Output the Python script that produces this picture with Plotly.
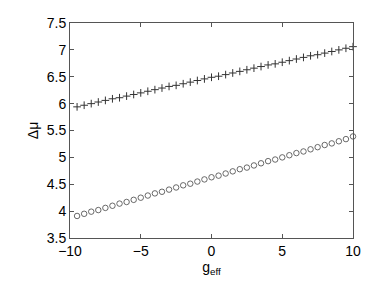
import plotly.graph_objects as go

g_eff = [-9.5, -9.0, -8.5, -8.0, -7.5, -7.0, -6.5, -6.0, -5.5, -5.0,
         -4.5, -4.0, -3.5, -3.0, -2.5, -2.0, -1.5, -1.0, -0.5, 0.0,
         0.5, 1.0, 1.5, 2.0, 2.5, 3.0, 3.5, 4.0, 4.5, 5.0,
         5.5, 6.0, 6.5, 7.0, 7.5, 8.0, 8.5, 9.0, 9.5, 10.0]

dmu_plus = [5.94, 5.97, 6.00, 6.03, 6.06, 6.09, 6.11, 6.14, 6.17, 6.20,
            6.23, 6.26, 6.29, 6.32, 6.34, 6.37, 6.40, 6.43, 6.46, 6.49,
            6.51, 6.54, 6.57, 6.60, 6.63, 6.66, 6.69, 6.72, 6.74, 6.77,
            6.80, 6.83, 6.86, 6.89, 6.91, 6.94, 6.97, 7.00, 7.03, 7.06]

dmu_circle = [3.91, 3.95, 3.99, 4.02, 4.06, 4.10, 4.14, 4.17, 4.21, 4.25,
              4.29, 4.33, 4.36, 4.40, 4.44, 4.48, 4.51, 4.55, 4.59, 4.63,
              4.66, 4.70, 4.74, 4.78, 4.81, 4.85, 4.89, 4.93, 4.96, 5.00,
              5.04, 5.08, 5.11, 5.15, 5.19, 5.23, 5.26, 5.30, 5.34, 5.39]

x_ticks = [-10, -5, 0, 5, 10]
x_tick_text = ["\u221210", "\u22125", "0", "5", "10"]
y_ticks = [3.5, 4, 4.5, 5, 5.5, 6, 6.5, 7, 7.5]
y_tick_text = ["3.5", "4", "4.5", "5", "5.5", "6", "6.5", "7", "7.5"]

fig = go.Figure()
fig.add_trace(go.Scatter(
    x=g_eff, y=dmu_plus, mode="markers",
    marker=dict(symbol="cross-thin-open", size=5.5, color="#333",
                line=dict(width=1, color="#333")),
    showlegend=False, cliponaxis=False))
fig.add_trace(go.Scatter(
    x=g_eff, y=dmu_circle, mode="markers",
    marker=dict(symbol="circle-open", size=5.5, color="#444",
                line=dict(width=0.8, color="#444")),
    showlegend=False, cliponaxis=False))

font = dict(family="Liberation Sans, Arial, sans-serif", size=14, color="black")
axis_common = dict(showline=True, linecolor="#555", linewidth=1, mirror="ticks",
                   ticks="inside", ticklen=4, tickcolor="#555", tickwidth=1,
                   showgrid=False, zeroline=False, tickfont=font,
                   ticklabeloverflow="allow")

# the page body has a default 8px margin, so the margins are offset by it
fig.update_layout(
    width=382, height=288,
    margin=dict(l=62, r=37, t=7, b=58),
    paper_bgcolor="white", plot_bgcolor="white",
    font=font,
    xaxis=dict(range=[-10, 10], tickvals=x_ticks, ticktext=x_tick_text,
               title=dict(text="g<sub>eff</sub>", font=font, standoff=0),
               **axis_common),
    yaxis=dict(range=[3.5, 7.5], tickvals=y_ticks, ticktext=y_tick_text,
               title=dict(text="\u0394\u03bc", font=font, standoff=4),
               **axis_common),
)

fig.write_html("out.html")
